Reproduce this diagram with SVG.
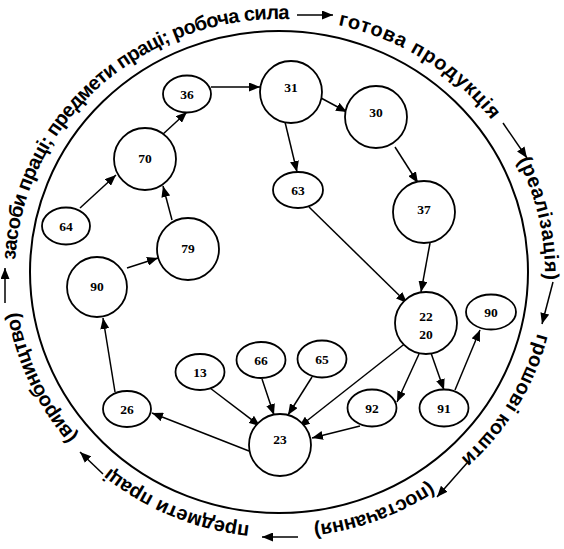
<svg xmlns="http://www.w3.org/2000/svg" xmlns:xlink="http://www.w3.org/1999/xlink" width="564" height="549" viewBox="0 0 564 549">
<style>
.n{fill:#fff;stroke:#000;stroke-width:1.8}
.t{font-family:"Liberation Serif","Times New Roman",serif;font-weight:bold;font-size:13.5px;text-anchor:middle;fill:#000}
.e{stroke:#000;stroke-width:1.5;fill:none;marker-end:url(#ah)}
.r{font-family:"Liberation Sans",Arial,sans-serif;font-weight:bold;font-size:20px;fill:#000}
</style>
<defs>
<marker id="ah" markerUnits="userSpaceOnUse" markerWidth="11" markerHeight="9" refX="11" refY="4.5" orient="auto"><path d="M0,0 L11,4.5 L0,9 z" fill="#000"/></marker>
<path id="ring" d="M15,273 A265,254 0 1,1 545,273 A265,254 0 1,1 15,273"/>
</defs>
<rect width="564" height="549" fill="#fff"/>
<ellipse cx="279" cy="272" rx="249" ry="241" fill="none" stroke="#000" stroke-width="2"/>
<g id="ring-text">
<text class="r"><textPath xlink:href="#ring" href="#ring" startOffset="13" textLength="404" lengthAdjust="spacing">засоби праці; предмети праці; робоча сила</textPath></text>
<text class="r"><textPath xlink:href="#ring" href="#ring" startOffset="466" textLength="184" lengthAdjust="spacing">готова продукція</textPath></text>
<text class="r"><textPath xlink:href="#ring" href="#ring" startOffset="698" textLength="124" lengthAdjust="spacing">(реалізація)</textPath></text>
<text class="r"><textPath xlink:href="#ring" href="#ring" startOffset="876" textLength="149" lengthAdjust="spacing">грошові кошти</textPath></text>
<text class="r"><textPath xlink:href="#ring" href="#ring" startOffset="1064" textLength="125" lengthAdjust="spacing">(постачання)</textPath></text>
<text class="r"><textPath xlink:href="#ring" href="#ring" startOffset="1253" textLength="153" lengthAdjust="spacing">предмети праці</textPath></text>
<text class="r"><textPath xlink:href="#ring" href="#ring" startOffset="1451" textLength="140" lengthAdjust="spacing">(виробництво)</textPath></text>
</g>
<g id="connectors">
<line class="e" x1="297" y1="15" x2="333" y2="15"/>
<line class="e" x1="503" y1="123" x2="527" y2="158"/>
<line class="e" x1="553" y1="282" x2="542" y2="324"/>
<line class="e" x1="467" y1="463" x2="437" y2="497"/>
<line class="e" x1="298" y1="537" x2="262" y2="537"/>
<line class="e" x1="103" y1="474" x2="80" y2="452"/>
<line class="e" x1="5" y1="303" x2="5" y2="268"/>
<line class="e" x1="80" y1="208" x2="116" y2="175"/>
<line class="e" x1="162" y1="135" x2="187" y2="112"/>
<line class="e" x1="211" y1="87" x2="260" y2="87"/>
<line class="e" x1="321" y1="98" x2="347" y2="112"/>
<line class="e" x1="285" y1="122" x2="297" y2="172"/>
<line class="e" x1="395" y1="147" x2="418" y2="183"/>
<line class="e" x1="309" y1="207" x2="407" y2="303"/>
<line class="e" x1="430" y1="243" x2="421" y2="292"/>
<line class="e" x1="407" y1="342" x2="299" y2="427"/>
<line class="e" x1="419" y1="354" x2="397" y2="402"/>
<line class="e" x1="431" y1="353" x2="444" y2="390"/>
<line class="e" x1="455" y1="390" x2="480" y2="330"/>
<line class="e" x1="360" y1="426" x2="312" y2="438"/>
<line class="e" x1="210" y1="388" x2="260" y2="426"/>
<line class="e" x1="262" y1="379" x2="274" y2="415"/>
<line class="e" x1="312" y1="377" x2="288" y2="415"/>
<line class="e" x1="249" y1="451" x2="152" y2="413"/>
<line class="e" x1="115" y1="392" x2="103" y2="318"/>
<line class="e" x1="172" y1="220" x2="163" y2="186"/>
<line class="e" x1="127" y1="268" x2="158" y2="258"/>
</g>
<g id="n36"><ellipse class="n" cx="187" cy="94" rx="24" ry="18.5"/><text class="t" x="187" y="98.5">36</text></g>
<g id="n31"><circle class="n" cx="291" cy="92" r="31"/><text class="t" x="291" y="92">31</text></g>
<g id="n30"><circle class="n" cx="376" cy="117" r="31"/><text class="t" x="376" y="117">30</text></g>
<g id="n63"><ellipse class="n" cx="298" cy="190" rx="25" ry="18"/><text class="t" x="298" y="194.5">63</text></g>
<g id="n37"><circle class="n" cx="424" cy="212" r="31"/><text class="t" x="424" y="214">37</text></g>
<g id="n70"><circle class="n" cx="145" cy="159" r="31"/><text class="t" x="145" y="163">70</text></g>
<g id="n64"><ellipse class="n" cx="66" cy="226" rx="24" ry="18.5"/><text class="t" x="66" y="230.5">64</text></g>
<g id="n79"><circle class="n" cx="188" cy="249" r="31"/><text class="t" x="188" y="253">79</text></g>
<g id="n90a"><circle class="n" cx="97" cy="287" r="30"/><text class="t" x="97" y="291">90</text></g>
<g id="n26"><ellipse class="n" cx="127" cy="409" rx="24" ry="18"/><text class="t" x="127" y="413.5">26</text></g>
<g id="n13"><ellipse class="n" cx="200" cy="372" rx="24.5" ry="18"/><text class="t" x="200" y="376.5">13</text></g>
<g id="n66"><ellipse class="n" cx="261" cy="360" rx="24.5" ry="18"/><text class="t" x="261" y="364.5">66</text></g>
<g id="n65"><ellipse class="n" cx="322" cy="359" rx="24.5" ry="18.5"/><text class="t" x="322" y="363.5">65</text></g>
<g id="n23"><circle class="n" cx="280" cy="445" r="31"/><text class="t" x="280" y="444">23</text></g>
<g id="n22"><circle class="n" cx="426" cy="323" r="31"/><text class="t" x="426" y="321">22</text><text class="t" x="426" y="339">20</text></g>
<g id="n92"><ellipse class="n" cx="372" cy="408" rx="24.5" ry="18.5"/><text class="t" x="372" y="412.5">92</text></g>
<g id="n91"><ellipse class="n" cx="444" cy="408" rx="24.5" ry="18.5"/><text class="t" x="444" y="412.5">91</text></g>
<g id="n90b"><ellipse class="n" cx="491" cy="312" rx="25" ry="17.5"/><text class="t" x="491" y="316.5">90</text></g>
</svg>
